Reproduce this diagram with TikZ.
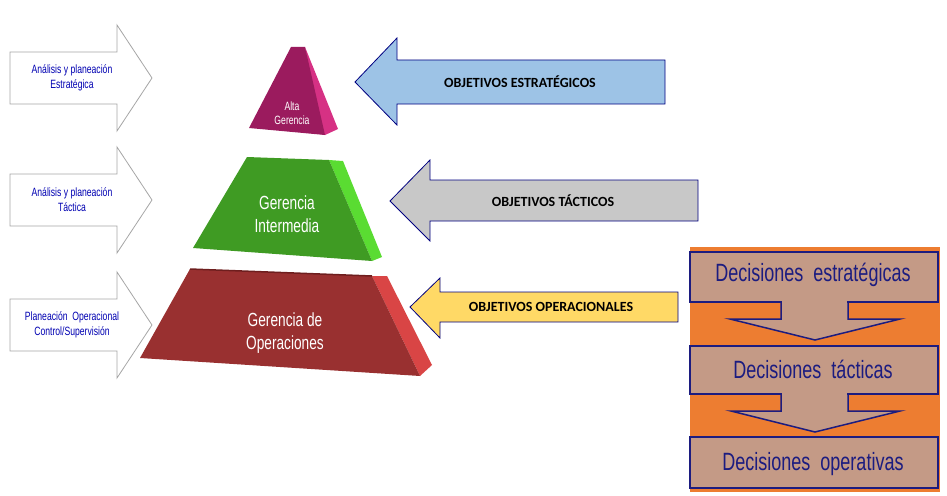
\documentclass[tikz,border=0pt]{standalone}
\usepackage{fontspec}
\setmainfont{Liberation Sans}
\newfontfamily\narrow{Liberation Sans}[FakeStretch=0.72]
\newfontfamily\carl{Carlito}
\begin{document}
\begin{tikzpicture}[x=1pt,y=-1pt,
  larr/.style={draw=gray!70,fill=white,line width=0.8pt},
  ltxt/.style={font=\narrow\fontsize{12}{15}\selectfont,text=blue!70!black,align=center},
  ptxt/.style={font=\narrow\fontsize{19}{23}\selectfont,text=white,align=center},
  rarr/.style={draw=blue!50!black,line width=0.8pt},
  otxt/.style={font=\carl\bfseries\fontsize{14}{16}\selectfont},
  dbox/.style={draw=navy,line width=1.5pt,fill=tan},
  dtxt/.style={font=\narrow\fontsize{25}{28}\selectfont,text=navy}]
\definecolor{navy}{HTML}{1C1C80}
\definecolor{tan}{HTML}{C49A86}
\definecolor{orng}{HTML}{ED7D31}
\useasboundingbox (0,0) rectangle (947,495);
% left arrows
\foreach \y/\n in {78/a,200/b,325/c}{
  \draw[larr] (10,\y-26) -- (117,\y-26) -- (117,\y-53) -- (152,\y) -- (117,\y+53) -- (117,\y+26) -- (10,\y+26) -- cycle;
}
\node[ltxt] (la) at (72,78) {Análisis y planeación\\Estratégica};
\node[ltxt] (lb) at (72,200) {Análisis y planeación\\Táctica};
\node[ltxt] (lc) at (72,325) {Planeación\ \ Operacional\\Control/Supervisión};
% pyramid
\fill[fill={rgb,255:red,214;green,49;blue,132}] (305,47) -- (338,129) -- (325,135) -- (320,134) -- cycle;
\fill[fill={rgb,255:red,155;green,27;blue,94}] (291,47) -- (305,47) -- (325,135) -- (249,128) -- cycle;
\node[font=\narrow\fontsize{12}{14}\selectfont,text=white,align=center] (t1) at (292,113) {Alta\\Gerencia};
\fill[fill={rgb,255:red,90;green,220;blue,50}] (329,160) -- (343,161) -- (382,257) -- (372,261) -- cycle;
\fill[fill={rgb,255:red,63;green,155;blue,35}] (247,157) -- (329,160) -- (372,261) -- (193,248) -- cycle;
\node[ptxt] (t2) at (287,214) {Gerencia\\Intermedia};
\fill[fill={rgb,255:red,217;green,69;blue,69}] (372,276) -- (387,276) -- (432,365) -- (420,376) -- cycle;
\fill[fill={rgb,255:red,153;green,48;blue,48}] (190,269) -- (372,276) -- (420,376) -- (140,358) -- cycle;
\draw[line width=1.5pt,color={rgb,255:red,110;green,30;blue,30}] (190,269) -- (372,276);
\node[ptxt] (t3) at (285,333) {Gerencia de\\Operaciones};
% right arrows
\draw[rarr,fill={rgb,255:red,157;green,195;blue,230}] (355,82) -- (397,38) -- (397,60) -- (665,60) -- (665,104) -- (397,104) -- (397,125) -- cycle;
\node[otxt] (o1) at (520,82) {OBJETIVOS ESTRATÉGICOS};
\draw[rarr,fill={rgb,255:red,200;green,200;blue,200}] (390,201) -- (430,160) -- (430,180) -- (698,180) -- (698,221) -- (430,221) -- (430,241) -- cycle;
\node[otxt] (o2) at (553,201) {OBJETIVOS TÁCTICOS};
\draw[rarr,fill={rgb,255:red,255;green,217;blue,102}] (410,307) -- (440,278) -- (440,292) -- (678,292) -- (678,322) -- (440,322) -- (440,338) -- cycle;
\node[otxt] (o3) at (551,307) {OBJETIVOS OPERACIONALES};
% decisions
\fill[orng] (690,247) rectangle (940,492);
\draw[dbox] (781,300) -- (781,319) -- (730,319) -- (815,340) -- (900,319) -- (848,319) -- (848,300);
\draw[dbox] (781,393) -- (781,411) -- (731,411) -- (815,432) -- (900,411) -- (848,411) -- (848,393);
\draw[dbox] (690,252) rectangle (938,302);
\draw[dbox] (690,346) rectangle (938,394);
\draw[dbox] (690,437) rectangle (938,488);
\fill[tan] (782,300) rectangle (847,303.5);
\fill[tan] (782,392.5) rectangle (847,395);
\node[dtxt] (d1) at (813,275) {Decisiones\ \ estratégicas};
\node[dtxt] (d2) at (813,369) {Decisiones\ \ tácticas};
\node[dtxt] (d3) at (813,464) {Decisiones\ \ operativas};
\end{tikzpicture}
\end{document}
